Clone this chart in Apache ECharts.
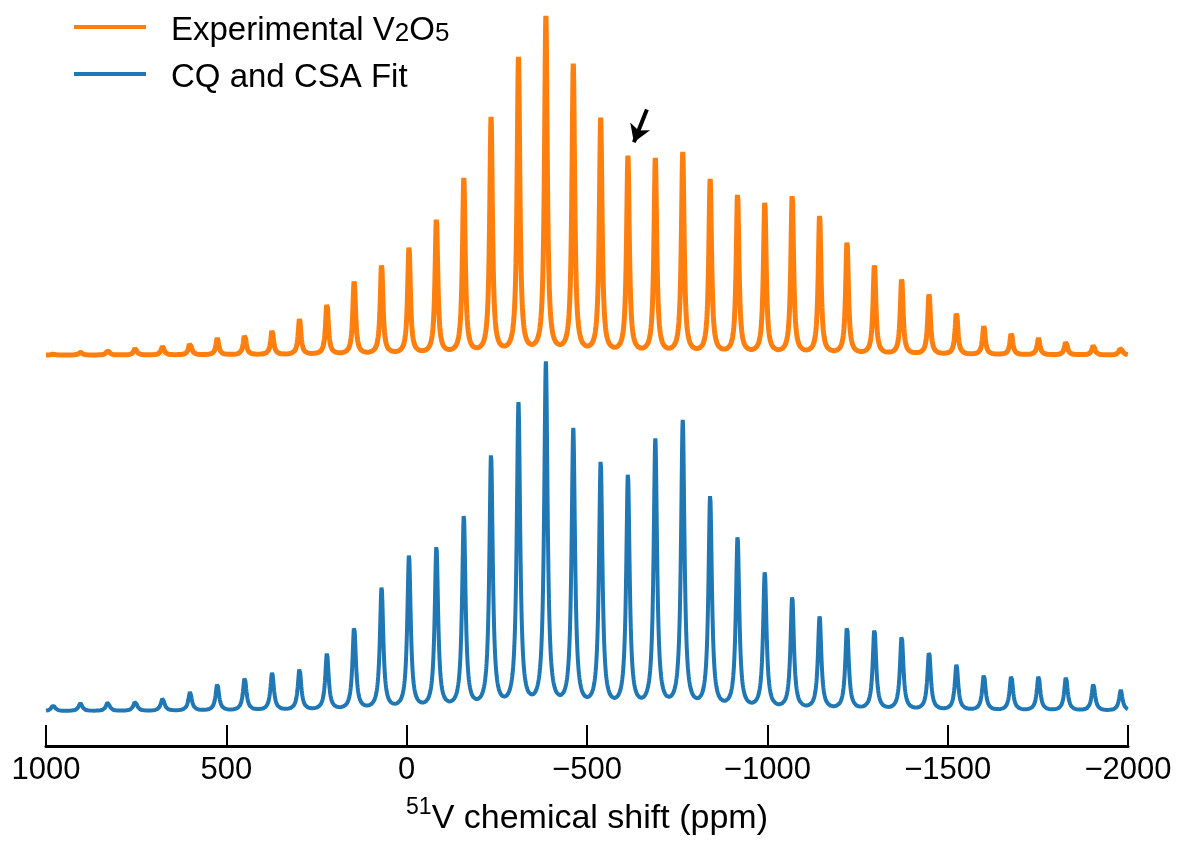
<!DOCTYPE html>
<html>
<head>
<meta charset="utf-8">
<style>
  html, body { margin: 0; padding: 0; background: #fff; }
  #chart { width: 1177px; height: 841px; }
</style>
<script src="https://cdn.jsdelivr.net/npm/echarts@6/dist/echarts.min.js"></script>
</head>
<body>
<div id="chart"></div>
<script>
// ---- Data ----
// Spinning-sideband centres (ppm), shared by both traces
const peakCenters = [980, 904.5, 828.5, 752.5, 676.5, 600.5, 525, 449, 373, 297,
  221, 145.5, 69.5, -6.5, -82.5, -158.5, -234, -310, -386, -462,
  -538, -613.5, -689.5, -765.5, -841.5, -917.5, -993, -1069, -1145, -1221,
  -1297, -1372.5, -1448.5, -1524.5, -1600.5, -1676.5, -1752, -1828, -1904, -1980];
// Experimental V2O5 sideband intensities (a.u.)
const expHeights = [1, 3, 5, 7, 9, 13, 17, 21, 25, 36,
  52, 74, 90, 108, 136, 176, 237, 297, 338, 290,
  236, 198, 196, 202, 175, 161, 153, 160, 140, 113,
  90, 76, 61, 43, 29, 22, 17, 14, 10, 8];
// CQ and CSA fit sideband intensities (a.u.)
const fitHeights = [6, 8, 9, 10, 13, 19, 27, 33, 38, 42,
  57, 84, 123, 155, 163, 194, 255, 306, 347, 280,
  248, 235, 270, 289, 214, 173, 138, 113, 94, 84,
  82, 75, 59, 46, 36, 35, 35, 34, 27, 21];
const expOffset = 358;          // vertical stacking offset of the experimental trace
const expHalfWidth = 4.6;       // Lorentzian half-width (ppm)
const fitHalfWidth = 5.7;       // Lorentzian half-width (ppm)
const xTickValues = [1000, 500, 0, -500, -1000, -1500, -2000];
const arrowFrom = [-666, 605];
const arrowTo = [-630, 572];
const ppmMax = 1000, ppmMin = -2000, ppmStep = 0.5;

function spectrum(heights, hw, offset) {
  const out = [];
  const g2 = hw * hw;
  for (let i = 0; ppmMax - i * ppmStep >= ppmMin; i++) {
    const x = ppmMax - i * ppmStep;
    let y = offset;
    for (let k = 0; k < peakCenters.length; k++) {
      const d = x - peakCenters[k];
      y += heights[k] * g2 / (d * d + g2);
    }
    out.push([x, y]);
  }
  return out;
}

const FONT = '"Liberation Sans", Arial, sans-serif';
const chart = echarts.init(document.getElementById('chart'), null, { renderer: 'canvas' });
chart.setOption({
  animation: false,
  backgroundColor: '#fff',
  grid: { left: 46, right: 49, top: 0, bottom: 91, containLabel: false },
  legend: {
    orient: 'vertical',
    left: 74,
    top: 14,
    padding: 0,
    itemWidth: 72,
    itemHeight: 4,
    itemGap: 14,
    icon: 'rect',
    data: ['Experimental V2O5', 'CQ and CSA Fit'],
    formatter: function (name) {
      if (name === 'Experimental V2O5') return '{m|Experimental V}{s|2}{m|O}{s|5}';
      return '{m|' + name + '}';
    },
    textStyle: {
      fontFamily: FONT,
      fontSize: 33,
      color: '#000',
      padding: [0, 0, 0, 20],
      rich: {
        m: { fontFamily: FONT, fontSize: 33, color: '#000', lineHeight: 40, verticalAlign: 'bottom' },
        s: { fontFamily: FONT, fontSize: 26, color: '#000', lineHeight: 26, verticalAlign: 'bottom' }
      }
    }
  },
  xAxis: {
    type: 'value',
    inverse: true,
    min: ppmMin,
    max: ppmMax,
    interval: 500,
    name: '{sup|51}{n|V chemical shift (ppm)}',
    nameLocation: 'middle',
    nameGap: 50,
    nameTextStyle: {
      fontFamily: FONT,
      fontSize: 34,
      color: '#000',
      rich: {
        sup: { fontFamily: FONT, fontSize: 23, color: '#000', lineHeight: 23, verticalAlign: 'top' },
        n: { fontFamily: FONT, fontSize: 34, color: '#000', lineHeight: 40, verticalAlign: 'bottom' }
      }
    },
    axisLine: { show: true, onZero: false, lineStyle: { color: '#000', width: 3 } },
    axisTick: { show: true, inside: true, length: 21, lineStyle: { color: '#000', width: 2 } },
    axisLabel: {
      fontFamily: FONT,
      fontSize: 31,
      color: '#000',
      margin: 9,
      formatter: function (v) {
        if (xTickValues.indexOf(v) < 0) return '';
        return v < 0 ? '\u2212' + Math.abs(v) : String(v);
      }
    },
    splitLine: { show: false }
  },
  yAxis: {
    type: 'value',
    show: false,
    min: -35,
    max: 715,
    splitLine: { show: false }
  },
  series: [
    {
      name: 'Experimental V2O5',
      type: 'line',
      data: spectrum(expHeights, expHalfWidth, expOffset),
      showSymbol: false,
      symbol: 'none',
      sampling: null,
      color: '#ff7f0e',
      lineStyle: { color: '#ff7f0e', width: 5 },
      z: 3,
      markLine: {
        silent: true,
        animation: false,
        symbol: ['none', 'arrow'],
        symbolSize: [16, 17],
        label: { show: false },
        lineStyle: { color: '#000', width: 4, type: 'solid' },
        emphasis: { disabled: true },
        data: [[{ coord: arrowFrom }, { coord: arrowTo }]]
      }
    },
    {
      name: 'CQ and CSA Fit',
      type: 'line',
      data: spectrum(fitHeights, fitHalfWidth, 0),
      showSymbol: false,
      symbol: 'none',
      color: '#1f77b4',
      lineStyle: { color: '#1f77b4', width: 4 },
      z: 2
    }
  ]
});
</script>
</body>
</html>
